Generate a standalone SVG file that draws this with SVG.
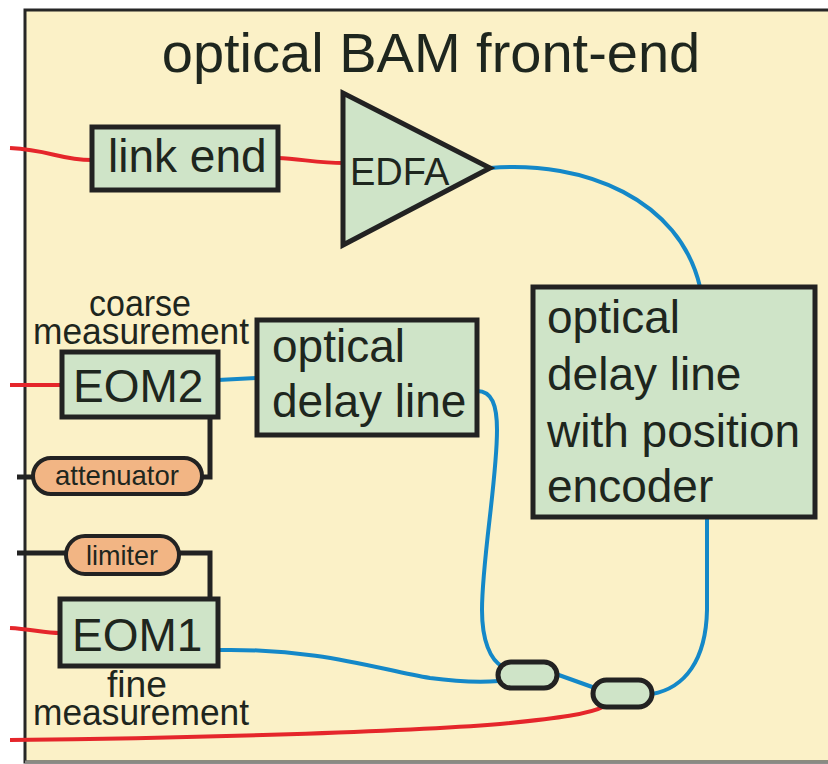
<svg xmlns="http://www.w3.org/2000/svg" width="828" height="764" viewBox="0 0 828 764">
<style>
text{font-family:"Liberation Sans",Arial,sans-serif;fill:#1e261e}
.box{fill:#cfe4c8;stroke:#222;stroke-width:5}
.pill{fill:#f2b584;stroke:#222;stroke-width:4}
.cpl{fill:#cfe4c8;stroke:#222;stroke-width:5}
.red{fill:none;stroke:#e5262b;stroke-width:4}
.blue{fill:none;stroke:#1488c8;stroke-width:4}
.blk{fill:none;stroke:#222;stroke-width:5}
.lbl{font-size:36px;text-anchor:middle}
</style>
<rect x="0" y="0" width="828" height="764" fill="#ffffff"/>
<rect x="25" y="10" width="820" height="752" fill="#fbf1c7" stroke="#262626" stroke-width="3"/>
<line x1="25" y1="762" x2="828" y2="762" stroke="#8a8a84" stroke-width="3"/>
<text x="431" y="72" font-size="56" text-anchor="middle">optical BAM front-end</text>
<g id="connectors">
<path class="red" d="M10,148 C50,150 60,160 92,160"/>
<path class="red" d="M278,158 C300,159 320,163 343,163"/>
<path class="blue" d="M490,168 C585,160 680,200 700,287"/>
<path class="red" d="M10,385 L62,385"/>
<path class="blue" d="M218,380 L257,378"/>
<path class="blk" d="M210,417 L210,477 L200,477"/>
<path class="blk" d="M17,477 L35,477"/>
<path class="blk" d="M17,553 L66,553"/>
<path class="blk" d="M178,553 L210,553 L210,599"/>
<path class="red" d="M10,628 C30,629 45,633 60,633"/>
<path class="blue" d="M218,650 C320,648 380,670 430,678 C460,682 485,682 499,681"/>
<path class="blue" d="M477,391 C492,391 497,405 497,430 C497,480 482,560 482,610 C482,640 490,660 503,667"/>
<path class="blue" d="M556,674 L595,688"/>
<path class="blue" d="M707,517 L707,610 C706,660 685,688 652,694"/>
<path class="red" d="M10,740 C200,738 400,732 500,724 C560,718 590,714 605,706"/>
</g>
<g id="link-end">
<rect class="box" x="92" y="127" width="186" height="63"/>
<text x="108" y="172" font-size="46">link end</text>
</g>
<g id="edfa">
<polygon class="box" points="343,93 343,245 490,168"/>
<text x="350" y="185" font-size="38">EDFA</text>
</g>
<g id="odl-pe">
<rect class="box" x="533" y="287" width="282" height="230"/>
<text x="547" y="333" font-size="46">optical</text>
<text x="547" y="390" font-size="46">delay line</text>
<text x="547" y="447" font-size="46">with position</text>
<text x="547" y="502" font-size="46">encoder</text>
</g>
<g id="coarse-label">
<text class="lbl" x="140" y="316" textLength="102" lengthAdjust="spacingAndGlyphs">coarse</text>
<text class="lbl" x="141" y="344" textLength="216" lengthAdjust="spacingAndGlyphs">measurement</text>
</g>
<g id="eom2">
<rect class="box" x="62" y="352" width="156" height="65"/>
<text x="73" y="402" font-size="46">EOM2</text>
</g>
<g id="odl">
<rect class="box" x="257" y="320" width="220" height="115"/>
<text x="272" y="362" font-size="46">optical</text>
<text x="272" y="417" font-size="46">delay line</text>
</g>
<g id="attenuator">
<rect class="pill" x="33" y="458" width="169" height="36" rx="18"/>
<text x="117" y="485" font-size="28" text-anchor="middle" textLength="124" lengthAdjust="spacingAndGlyphs">attenuator</text>
</g>
<g id="limiter">
<rect class="pill" x="66" y="536" width="113" height="38" rx="19"/>
<text x="122" y="565" font-size="28" text-anchor="middle" textLength="72" lengthAdjust="spacingAndGlyphs">limiter</text>
</g>
<g id="eom1">
<rect class="box" x="60" y="599" width="158" height="67"/>
<text x="72" y="651" font-size="46">EOM1</text>
</g>
<g id="fine-label">
<text class="lbl" x="137" y="697" textLength="60" lengthAdjust="spacingAndGlyphs">fine</text>
<text class="lbl" x="141" y="725" textLength="216" lengthAdjust="spacingAndGlyphs">measurement</text>
</g>
<g id="coupler1">
<rect class="cpl" x="498" y="662" width="59" height="26" rx="13"/>
</g>
<g id="coupler2">
<rect class="cpl" x="593" y="680" width="59" height="27" rx="13.5"/>
</g>
</svg>
